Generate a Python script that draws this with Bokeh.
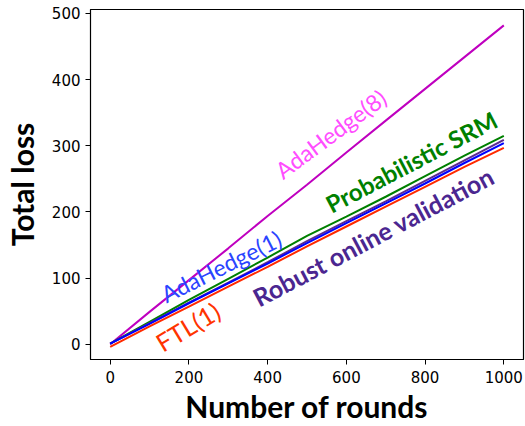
from bokeh.plotting import figure
from bokeh.models import Range1d, FixedTicker
from bokeh.core.properties import value
from bokeh.embed import file_html
from bokeh.resources import INLINE

rounds = [0, 100, 200, 300, 400, 500, 600, 700, 800, 900, 1000]
adahedge8 = [0, 49, 97, 145, 194, 241, 290, 338, 386, 434, 482]
prob_srm = [1, 34, 67, 99, 131, 164, 193, 223, 254, 285, 315]
robust_ov = [1, 32, 63, 93, 124, 156, 186, 216, 247, 278, 309]
adahedge1 = [1, 31, 62, 92, 122, 153, 183, 213, 243, 274, 304]
ftl1 = [-4, 27, 57, 87, 117, 148, 178, 208, 238, 268, 297]

x_ticks = [0, 200, 400, 600, 800, 1000]
y_ticks = [0, 100, 200, 300, 400, 500]

series = [
    (adahedge8, "#bf00bf"),
    (prob_srm, "#008000"),
    (robust_ov, "#5b2a91"),
    (adahedge1, "#0000ff"),
    (ftl1, "#ff2a00"),
]

# label: text, x, y, angle, color, bold, size
labels = [
    ("AdaHedge(8)", 560, 318, 36.5, "#ff4dff", False, "23px"),
    ("Probabilistic SRM", 765, 276, 27.6, "#008000", True, "24px"),
    ("Robust online validation", 668, 163, 27.8, "#4b2690", True, "25px"),
    ("AdaHedge(1)", 282, 118, 26.5, "#2a44ff", False, "23px"),
    ("FTL(1)", 197, 27, 31.0, "#ff3300", False, "25px"),
]

p = figure(width=525, height=426, output_backend="svg", toolbar_location=None,
           x_range=Range1d(-50, 1050), y_range=Range1d(-23, 506),
           min_border_left=10, min_border_right=2, min_border_top=9, min_border_bottom=2)

for ys, c in series:
    p.line(rounds, ys, line_color=c, line_width=2)

for t, x, y, a, c, b, s in labels:
    p.text(x=[x], y=[y], text=[t], angle=a, angle_units="deg",
           text_color=c, text_font=value("Lato"),
           text_font_style="bold" if b else "normal",
           text_font_size=s, text_align="center", text_baseline="middle")

p.grid.visible = False
p.outline_line_color = "black"
p.outline_line_width = 1.2
p.background_fill_color = "white"
p.border_fill_color = "white"

for ax in (p.xaxis[0], p.yaxis[0]):
    ax.major_label_text_font = "DejaVu Sans"
    ax.major_label_text_font_size = "15px"
    ax.major_label_text_color = "black"
    ax.axis_line_color = "black"
    ax.major_tick_line_color = "black"
    ax.major_tick_out = 5
    ax.major_tick_in = 0
    ax.minor_tick_line_color = None
    ax.axis_label_text_font = "Lato"
    ax.axis_label_text_font_style = "bold"
    ax.axis_label_text_font_size = "30px"
    ax.axis_label_text_color = "black"

p.xaxis.ticker = FixedTicker(ticks=x_ticks)
p.yaxis.ticker = FixedTicker(ticks=y_ticks)
p.xaxis.axis_label = "Number of rounds"
p.yaxis.axis_label = "Total loss"
p.xaxis.axis_label_standoff = 2
p.yaxis.axis_label_standoff = 9
p.xaxis.major_label_standoff = 6
p.yaxis.major_label_standoff = 5

open("out.html", "w").write(file_html(p, INLINE))
